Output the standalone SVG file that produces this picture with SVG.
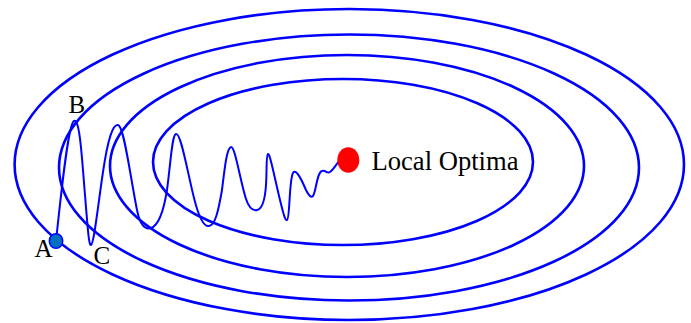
<svg xmlns="http://www.w3.org/2000/svg" width="691" height="323" viewBox="0 0 691 323">
<style>
.contour{fill:none;stroke:#0000ff;stroke-width:2.6}
.walk{fill:none;stroke:#0000ff;stroke-width:2;stroke-linejoin:round;stroke-linecap:round}
.lbl{font-family:"Liberation Serif","Times New Roman",serif;fill:#000}
</style>
<rect width="691" height="323" fill="#fff"/>
<g id="contours">
<ellipse class="contour" cx="349.3" cy="164.5" rx="334.7" ry="155.5"/>
<ellipse class="contour" cx="349" cy="167.5" rx="290" ry="133"/>
<ellipse class="contour" cx="347" cy="166" rx="237" ry="111"/>
<ellipse class="contour" cx="343" cy="162" rx="190" ry="83"/>
</g>
<g id="connectors">
<path class="walk" d="M56,241 C61,195 68,124 74,121 C80,118 82,160 85,195 C88,232 89,246 91,245 C94,244 98,205 103,172 C108,138 113,124 118,125 C124,126 130,175 137,210 C140,225 145,230 151,228 C157,226 163,215 167,190 C171,160 172,135 176,134 C181,133 187,170 194,198 C199,218 204,227 209,226 C215,225 218,213 222,190 C225,165 227,148 231,147 C235,146 240,180 246,199 C249,208 253,211 257,210 C262,209 265,200 266,185 C267,170 266,155 268,154 C270,153 275,180 280,200 C283,212 285,221 287,220 C290,219 289,180 293,173 C296,167 303,183 306,190 C309,196 311,198 313,196 C316,192 317,172 322,171 C326,170 327,174 330,172 C333,170 336,165 339,161"/>
</g>
<g id="pointA">
<ellipse cx="56" cy="241" rx="6.7" ry="7.3" fill="#0070c0" stroke="#0000ff" stroke-width="1.5"/>
<text class="lbl" x="34.5" y="256.7" font-size="25">A</text>
</g>
<g id="pointB">
<text class="lbl" x="68.5" y="113.3" font-size="25">B</text>
</g>
<g id="pointC">
<text class="lbl" x="93.5" y="264" font-size="25">C</text>
</g>
<g id="optimum">
<ellipse cx="348.3" cy="160" rx="11" ry="12.8" fill="#ff0000"/>
<text class="lbl" x="371.5" y="170" font-size="27" textLength="147" lengthAdjust="spacingAndGlyphs">Local Optima</text>
</g>
</svg>
